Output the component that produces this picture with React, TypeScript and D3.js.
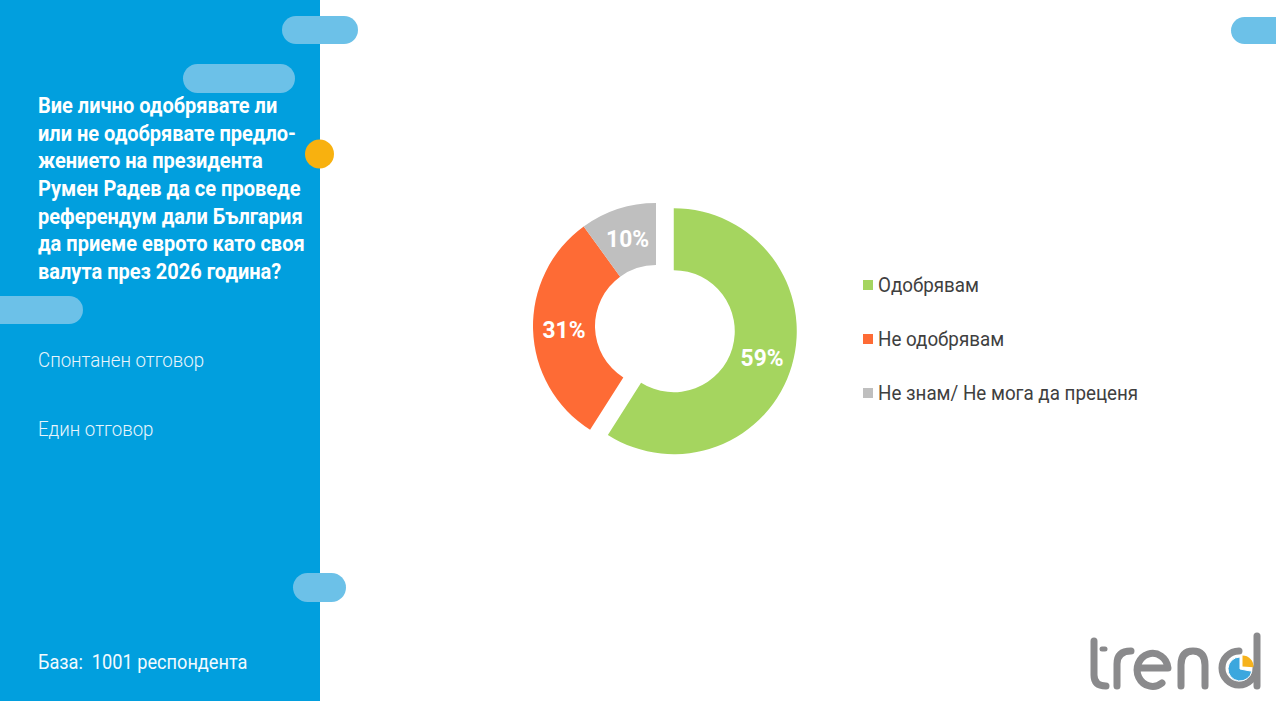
import React from "react";
import * as d3 from "d3";

const W = 1276;
const H = 701;

const categories = ["Одобрявам", "Не одобрявам", "Не знам/ Не мога да преценя"];
const values = [59, 31, 10];
const sliceColors = ["#A5D55F", "#FE6B35", "#BFBFBF"];

const titleLines = [
  "Вие лично одобрявате ли",
  "или не одобрявате предло-",
  "жението на президента",
  "Румен Радев да се проведе",
  "референдум дали България",
  "да приеме еврото като своя",
  "валута през 2026 година?",
];
const noteLines = ["Спонтанен отговор", "Един отговор"];
const baseText = "База:  1001 респондента";

const pills = [
  { x: 282, y: 16, w: 76, h: 28 },
  { x: 183, y: 64, w: 112, h: 29 },
  { x: -30, y: 296, w: 113, h: 28 },
  { x: 293, y: 573, w: 53, h: 29 },
  { x: 1231, y: 17, w: 90, h: 27 },
];

export default function App() {
  const cx = 656;
  const cy = 326;
  const R = 123;
  const r = 61;
  const explode = 18.5;

  const pie = d3.pie<number>().sort(null).value((d) => d);
  const arcs = pie(values);
  const arcGen = d3.arc<d3.PieArcDatum<number>>().innerRadius(r).outerRadius(R);
  const labelArc = d3.arc<d3.PieArcDatum<number>>().innerRadius((r + R) / 2).outerRadius((r + R) / 2);

  const logoPie = d3.arc();

  return (
    <div style={{ position: "fixed", left: 0, top: 0 }}>
      <svg width={W} height={H} style={{ display: "block", background: "#fff" }}>
        <rect x={0} y={0} width={320} height={H} fill="#019FDE" />
        {pills.map((p, i) => (
          <rect key={i} x={p.x} y={p.y} width={p.w} height={p.h} rx={p.h / 2} fill="#6CC1E8" />
        ))}
        <circle cx={319.5} cy={154} r={14.5} fill="#F8B10F" />

        {/* Title */}
        <g transform={`translate(38,0) scale(0.91,1)`} fontFamily="Roboto" fontWeight={700} fontSize={22} fill="#ffffff">
          {titleLines.map((t, i) => (
            <text key={i} x={0} y={113 + i * 27.7}>
              {t}
            </text>
          ))}
        </g>
        <g transform={`translate(38,0) scale(0.89,1)`} fontFamily="Roboto" fontWeight={300} fontSize={21} fill="#E8F5FC">
          {noteLines.map((t, i) => (
            <text key={i} x={0} y={367 + i * 69}>
              {t}
            </text>
          ))}
        </g>
        <g transform={`translate(38,0) scale(0.887,1)`} fontFamily="Roboto" fontWeight={400} fontSize={20.5} fill="#F2FAFE">
          <text x={0} y={669} style={{ whiteSpace: "pre" }}>
            {baseText}
          </text>
        </g>

        {/* Donut */}
        <g transform={`translate(${cx},${cy})`}>
          {arcs.map((a, i) => {
            const mid = (a.startAngle + a.endAngle) / 2;
            const off = i === 0 ? explode : 0;
            const dx = Math.sin(mid) * off;
            const dy = -Math.cos(mid) * off;
            const [lx, ly] = labelArc.centroid(a);
            return (
              <g key={i} transform={`translate(${dx},${dy})`}>
                <path d={arcGen(a) || ""} fill={sliceColors[i]} />
                <g transform={`translate(${lx},${ly}) scale(0.93,1)`}>
                  <text
                    x={0}
                    y={0}
                    dy="0.36em"
                    textAnchor="middle"
                    fontFamily="Roboto"
                    fontWeight={700}
                    fontSize={24.5}
                    fill="#ffffff"
                  >
                    {values[i]}%
                  </text>
                </g>
              </g>
            );
          })}
        </g>

        {/* Legend */}
        {categories.map((c, i) => (
          <g key={c} transform={`translate(863,${280 + i * 54})`}>
            <rect x={0} y={0} width={10} height={10} fill={sliceColors[i]} />
            <g transform={`translate(15,12) scale(0.94,1)`}>
              <text x={0} y={0} fontFamily="Roboto" fontWeight={400} fontSize={20} fill="#3F3F3F">
                {c}
              </text>
            </g>
          </g>
        ))}

        {/* Logo */}
        <g fill="none" stroke="#8A8A8C" strokeWidth={7} strokeLinecap="round" strokeLinejoin="round">
          <path d="M1094,641 V675 Q1094,686 1106,686" />
          <path d="M1102,649 H1105" strokeWidth={5} />
          <path d="M1117,686 V664 Q1117,651 1131,651" />
          <path d="M1139,668 H1168 A15.5,16.5 0 1 0 1162,683" />
          <path d="M1181,686 V665 Q1181,651 1193,651 Q1205,651 1205,665 V686" />
          <path d="M1257,636 V686" />
          <path d="M1239,651 A17,17 0 1 0 1256,668" />
        </g>
        <g transform="translate(1240,669)">
          <path
            d={logoPie({ innerRadius: 0, outerRadius: 12, startAngle: Math.PI * 0.56, endAngle: Math.PI * 2 }) || ""}
            fill="#3BA7DE"
            stroke="#ffffff"
            strokeWidth={1}
          />
          <path
            transform="translate(2.5,-2.5)"
            d={logoPie({ innerRadius: 0, outerRadius: 11, startAngle: 0, endAngle: Math.PI * 0.52 }) || ""}
            fill="#F6B21C"
          />
        </g>
      </svg>
    </div>
  );
}
